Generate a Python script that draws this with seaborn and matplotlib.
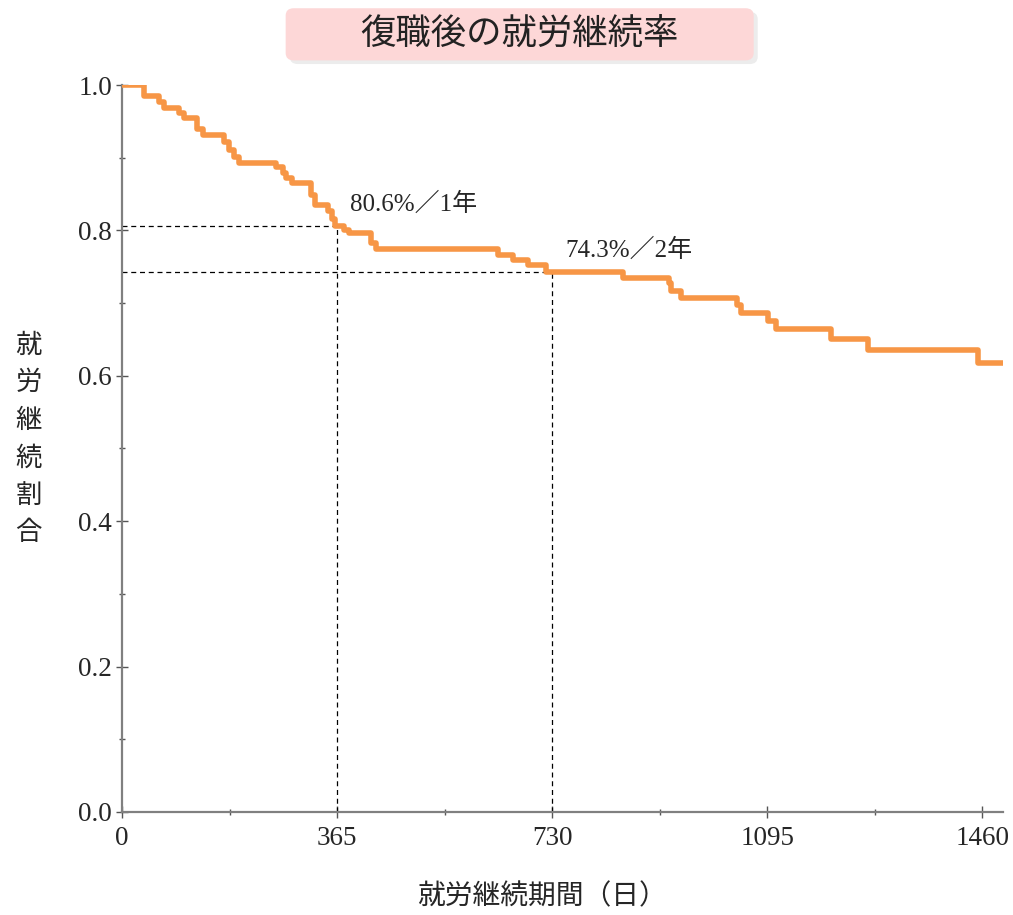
import numpy as np
import pandas as pd
import matplotlib
matplotlib.use("Agg")
import matplotlib.pyplot as plt
import seaborn as sns
from matplotlib.patches import FancyBboxPatch
from matplotlib.ticker import MultipleLocator

# data (days, retention rate)
days = [0, 37, 63, 71, 97, 105, 127, 137, 173, 182, 190, 198, 262, 273, 279, 289,
        321, 328, 349, 356, 362, 377, 386, 423, 431, 638, 664, 689, 720, 851, 928,
        931, 948, 1044, 1050, 1096, 1110, 1203, 1266, 1452, 1495]
rate = [1.0, 0.985, 0.977, 0.968, 0.961, 0.954, 0.940, 0.931, 0.922, 0.911, 0.901,
        0.893, 0.887, 0.879, 0.872, 0.865, 0.849, 0.835, 0.826, 0.816, 0.806, 0.801,
        0.796, 0.782, 0.774, 0.766, 0.759, 0.752, 0.743, 0.735, 0.727, 0.717, 0.707,
        0.697, 0.687, 0.675, 0.664, 0.650, 0.635, 0.617, 0.617]

mark_days = [365, 730]
mark_rate = [0.806, 0.743]
mark_text = ["80.6%／1年", "74.3%／2年"]
xticks = [0, 365, 730, 1095, 1460]

df = pd.DataFrame({"days": days, "rate": rate})

sns.set_style("white")
plt.rcParams['font.family'] = ['Liberation Serif', 'Noto Sans CJK JP']

fig = plt.figure(figsize=(10.13, 9.15), dpi=100)
ax = fig.add_axes([0.1204, 0.1126, 0.8696, 0.7945])

sns.lineplot(data=df, x="days", y="rate", drawstyle="steps-post",
             color="#F79646", linewidth=4.0, ax=ax, zorder=3)

# dashed guide lines at 1 and 2 years
for d, r, t in zip(mark_days, mark_rate, mark_text):
    ax.plot([0, d], [r, r], color="black", linestyle=(0, (4, 3)), linewidth=0.9)
    ax.plot([d, d], [0, r], color="black", linestyle=(0, (4, 3)), linewidth=0.9)
    ax.text(d + 22, r + 0.03, t, fontsize=18, va="center", ha="left",
            family=['Liberation Serif', 'Noto Sans CJK JP'])

ax.set_xlim(0, 1495)
ax.set_ylim(0, 1.0)
ax.set_xticks(xticks)
ax.xaxis.set_minor_locator(MultipleLocator(182.5))
ax.set_yticks([0, 0.2, 0.4, 0.6, 0.8, 1.0])
ax.set_yticklabels(["0.0", "0.2", "0.4", "0.6", "0.8", "1.0"])
ax.yaxis.set_minor_locator(MultipleLocator(0.1))
ax.tick_params(axis="both", which="both", bottom=True, left=True)
ax.tick_params(axis="both", which="major", labelsize=19.5, length=8, width=1,
               color="#555555", direction="inout", pad=3)
ax.tick_params(axis="both", which="minor", length=4, width=1, color="#555555",
               direction="inout")
ax.tick_params(axis="x", which="major", pad=6)

for s in ["top", "right"]:
    ax.spines[s].set_visible(False)
for s in ["left", "bottom"]:
    ax.spines[s].set_color("#808080")
    ax.spines[s].set_linewidth(1.6)

ax.set_xlabel("")
ax.set_ylabel("")

# axis titles
fig.text(0.535, 0.02, "就労継続期間（日）", fontsize=20, ha="center", va="center",
         family=['Noto Sans CJK JP'])
fig.text(0.028, 0.52, "就\n労\n継\n続\n割\n合", fontsize=19, ha="center",
         va="center", linespacing=1.5, family=['Noto Sans CJK JP'])

# title in a pink rounded box
shadow = FancyBboxPatch((0.286, 0.930), 0.462, 0.057,
                        boxstyle="round,pad=0,rounding_size=0.008",
                        transform=fig.transFigure, facecolor="#ececec",
                        edgecolor="none", zorder=0)
box = FancyBboxPatch((0.282, 0.934), 0.462, 0.057,
                     boxstyle="round,pad=0,rounding_size=0.008",
                     transform=fig.transFigure, facecolor="#FDD7D7",
                     edgecolor="none", zorder=1)
fig.patches.extend([shadow, box])
fig.text(0.513, 0.962, "復職後の就労継続率", fontsize=25.5, ha="center", va="center",
         family=['Noto Sans CJK JP'], color="#222222")

fig.savefig("out.png", dpi=100)
